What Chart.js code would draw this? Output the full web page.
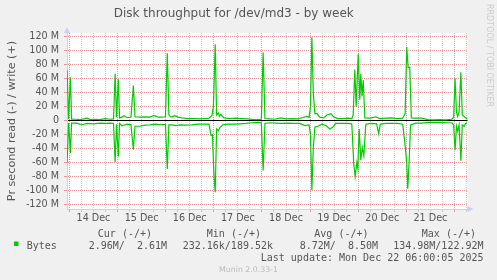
<!DOCTYPE html>
<html>
<head>
<meta charset="utf-8">
<title>Disk throughput for /dev/md3 - by week</title>
<script src="https://cdn.jsdelivr.net/npm/chart.js@4.4.1/dist/chart.umd.min.js"></script>
<style>
  html, body { margin: 0; padding: 0; background: #f0f0f0; }
  #wrap { width: 497px; height: 280px; }
</style>
</head>
<body>
<div id="wrap"><canvas id="diskChart" width="497" height="280"></canvas></div>
<script>
// hours since 14 Dec 00:00, values in MB per second
const writeHours = [-1.15, -0.4, 0.5, 1.1, 3.3, 5.3, 7.3, 8.8, 10.3, 12.8, 15.3, 17.8, 20.3, 22.0, 22.8, 23.5, 24.4, 25.0,
  26.2, 27.2, 28.7, 30.7, 31.9, 32.7, 35.2, 37.7, 40.2, 42.2, 44.2, 46.2, 47.9, 48.8, 49.6, 50.6, 52.6, 54.1, 56.1,
  59.1, 62.6, 65.1, 67.6, 69.6, 71.1, 71.8, 72.7, 73.4, 74.3, 74.8, 75.5, 77.0, 80.0, 83.0, 86.0, 89.0, 92.0, 94.0,
  95.7, 96.6, 97.5, 99.9, 102.4, 105.4, 107.9, 110.9, 113.9, 116.5, 118.0, 119.5, 120.2, 120.9, 121.6, 122.4, 123.4,
  124.9, 126.9, 128.4, 130.4, 131.9, 133.9, 136.3, 138.8, 140.8, 141.5, 142.3, 143.0, 144.0, 144.8, 145.3, 145.9,
  146.5, 147.3, 149.8, 152.8, 154.8, 157.8, 160.7, 163.7, 166.2, 167.4, 168.2, 168.9, 169.7, 170.5, 172.7, 175.7,
  178.7, 181.7, 184.7, 187.7, 190.7, 191.6, 192.3, 193.0, 193.6, 194.3, 195.2, 195.9, 196.8, 197.5, 198.3];
const writeValues = [72, 2, 62, 2, 2, 1.5, 2.5, 3.5, 1.5, 2, 1.5, 3, 2, 2.5, 67, 5, 59, 4,
  5, 7, 4.5, 5, 50, 5.5, 5, 5.5, 5, 7.5, 5, 5, 5.5, 96, 8, 5, 7, 5, 4,
  3, 3, 2.5, 3, 3.5, 7.5, 20, 109, 8, 11, 6, 9, 4, 3, 3.5, 3, 2.5, 1.5, 1.5,
  2, 97, 3, 2.5, 2, 4, 2.5, 3, 2.5, 4.5, 6, 5, 20, 119, 40, 10, 10,
  5, 4, 8, 10, 5, 3, 3, 3.5, 3, 8, 73, 20, 95, 30, 67, 35,
  58, 4, 3.5, 5.5, 3, 3.5, 4, 3, 3.5, 10, 105, 76, 76, 4, 3.5, 3.5,
  1.5, 1, 1.5, 1, 2, 5, 60, 12, 6, 12, 69, 8, 6, 4, 2.6];

const readHours = [-1.15, -0.4, 0.5, 1.1, 3.3, 5.3, 6.8, 8.8, 11.8, 15.3, 18.3, 20.3, 22.0, 22.8, 23.5, 24.4, 25.0,
  26.2, 27.2, 28.7, 30.7, 31.9, 32.7, 35.2, 37.7, 40.2, 42.7, 45.2, 47.9, 48.8, 49.6, 51.2, 53.1, 55.1, 58.1, 61.1,
  64.1, 67.1, 69.6, 70.6, 71.3, 72.1, 72.7, 73.4, 74.3, 75.0, 76.5, 79.0, 82.0, 85.0, 88.0, 91.0, 94.0, 95.7, 96.6,
  97.5, 99.9, 102.9, 105.9, 108.9, 111.9, 114.9, 117.4, 119.5, 120.2, 120.9, 121.6, 122.4, 123.9, 125.9, 127.9,
  129.9, 131.4, 132.8, 135.8, 138.8, 140.8, 141.8, 142.5, 143.3, 143.8, 144.5, 145.3, 146.0, 146.8, 147.8, 150.3,
  153.2, 154.2, 155.0, 157.8, 160.7, 163.7, 166.2, 167.4, 168.2, 168.7, 169.4, 170.1, 172.7, 175.7, 178.7, 181.7,
  184.7, 187.7, 190.7, 191.6, 192.3, 193.0, 193.6, 194.3, 195.2, 195.9, 196.8, 197.5, 198.3];
const readValues = [-60, -3, -46, -3.5, -3.5, -5, -5.5, -4, -4.5, -3.5, -4, -3.5, -4, -59, -5, -51, -4,
  -7, -6.5, -5, -6, -41.5, -8, -8, -6.5, -6, -5, -5.5, -5.5, -69, -6, -6, -7, -6, -6.5, -6,
  -5, -5, -5, -21, -20, -79, -102, -12, -14, -10, -6, -5, -5, -4.5, -4, -3, -2.5, -3, -71,
  -4, -3, -3.5, -4, -3.5, -4, -4, -7, -6, -20, -99, -40, -9, -8, -5, -7,
  -12, -9, -4, -4, -4, -4.5, -62, -80, -60, -68, -12, -56, -38, -50, -5, -4,
  -4.5, -18.6, -5, -4, -4, -4, -5, -35, -61, -97, -59, -6, -3.5, -3.5, -2.5, -2.5,
  -2.5, -3, -3, -6, -42, -8, -15, -6, -57, -6, -8, -4, -3];

const dayLabels = ['14 Dec', '15 Dec', '16 Dec', '17 Dec', '18 Dec', '19 Dec', '20 Dec', '21 Dec'];
const yTickValues = [-120, -100, -80, -60, -40, -20, 0, 20, 40, 60, 80, 100, 120];
const yTickLabels = ['-120 M', '-100 M', '-80 M', '-60 M', '-40 M', '-20 M', '0', '20 M', '40 M', '60 M', '80 M', '100 M', '120 M'];

const legendHeaders = ['Cur (-/+)', 'Min (-/+)', 'Avg (-/+)', 'Max (-/+)'];
const legendValues = ['2.96M/  2.61M', '232.16k/189.52k', '8.72M/  8.50M', '134.98M/122.92M'];
const lastUpdate = 'Last update: Mon Dec 22 06:00:05 2025';

const GREEN = '#00cc00';
const MAJOR = 'rgba(235, 130, 130, 0.85)';
const MINOR = 'rgba(190, 190, 190, 0.8)';
const AXIS = '#c9d0f5';
const TEXT = '#555555';

const toPoints = (hours, values) => hours.map((h, i) => ({ x: h, y: values[i] }));

const munin = {
  id: 'munin',
  beforeDraw(chart) {
    const { ctx, chartArea: a } = chart;
    ctx.save();
    ctx.fillStyle = '#f0f0f0';
    ctx.fillRect(0, 0, chart.width, chart.height);
    ctx.fillStyle = '#ffffff';
    ctx.fillRect(a.left, a.top, a.right - a.left, a.bottom - a.top);
    ctx.restore();
  },
  afterDraw(chart) {
    const { ctx, chartArea: a } = chart;
    ctx.save();
    // axis arrows
    ctx.fillStyle = AXIS;
    ctx.beginPath();
    ctx.moveTo(a.left - 3, a.top);
    ctx.lineTo(a.left + 3, a.top);
    ctx.lineTo(a.left, a.top - 6);
    ctx.fill();
    ctx.beginPath();
    ctx.moveTo(a.right, a.bottom - 3);
    ctx.lineTo(a.right, a.bottom + 3);
    ctx.lineTo(a.right + 6, a.bottom);
    ctx.fill();

    // legend
    ctx.font = '10px "DejaVu Sans Mono"';
    ctx.fillStyle = TEXT;
    ctx.textBaseline = 'middle';
    ctx.textAlign = 'right';
    const headerX = [152, 261, 368.5, 476];
    const valueX = [167, 273, 378, 483.5];
    legendHeaders.forEach((t, i) => ctx.fillText(t, headerX[i], 234));
    legendValues.forEach((t, i) => ctx.fillText(t, valueX[i], 246));
    ctx.fillText(lastUpdate, 483.5, 258.2);
    ctx.textAlign = 'left';
    ctx.fillText('Bytes', 26.7, 246);
    ctx.fillStyle = GREEN;
    ctx.fillRect(14, 241.5, 4.5, 4.5);

    ctx.font = '7.8px "DejaVu Sans"';
    ctx.fillStyle = '#bbbbbb';
    ctx.textAlign = 'center';
    ctx.fillText('Munin 2.0.33-1', 248.5, 270);

    ctx.translate(489.5, 4);
    ctx.rotate(Math.PI / 2);
    ctx.font = '8px "DejaVu Sans"';
    ctx.fillStyle = '#cccccc';
    ctx.textAlign = 'left';
    ctx.fillText('RRDTOOL / TOBI OETIKER', 0, 0);
    ctx.restore();
  }
};

const ctx = document.getElementById('diskChart');

const chart = new Chart(ctx, {
  type: 'line',
  data: {
    datasets: [
      {
        label: 'write',
        data: toPoints(writeHours, writeValues),
        borderColor: GREEN,
        borderWidth: 1.2,
        pointRadius: 0,
        tension: 0,
      },
      {
        label: 'read',
        data: toPoints(readHours, readValues),
        borderColor: GREEN,
        borderWidth: 1.2,
        pointRadius: 0,
        tension: 0,
      },
    ],
  },
  options: {
    responsive: false,
    animation: false,
    events: [],
    layout: { padding: { left: 0, right: 29.5, top: 0, bottom: 0 } },
    plugins: {
      legend: { display: false },
      tooltip: { enabled: false },
      title: {
        display: true,
        text: 'Disk throughput for /dev/md3 - by week',
        color: TEXT,
        font: { family: 'DejaVu Sans', size: 12, weight: 'normal' },
        padding: { top: 7, bottom: 11.6 },
      },
    },
    scales: {
      x: {
        type: 'linear',
        min: -1.2,
        max: 198.5,
        afterFit(scale) { scale.height = 71; },
        afterBuildTicks(scale) {
          scale.ticks = [];
          for (let h = 0; h <= 198; h += 6) scale.ticks.push({ value: h });
        },
        grid: {
          color: (c) => (c.tick && c.tick.value % 24 === 0 ? MAJOR : MINOR),
          tickColor: (c) => (c.tick && c.tick.value % 24 === 0 ? MAJOR : MINOR),
          tickLength: 3,
        },
        border: { color: AXIS, dash: [1, 1] },
        ticks: {
          autoSkip: false,
          maxRotation: 0,
          padding: 1,
          color: TEXT,
          font: { family: 'DejaVu Sans', size: 9.6 },
          callback: (v) => (v % 24 === 12 ? dayLabels[Math.floor(v / 24)] : ''),
        },
      },
      y: {
        min: -126,
        max: 125,
        afterFit(scale) { scale.width = 67; },
        afterBuildTicks(scale) {
          scale.ticks = [];
          for (let v = -120; v <= 120; v += 10) scale.ticks.push({ value: v });
        },
        grid: {
          color: (c) => (c.tick && c.tick.value === 0 ? '#000000' : (c.tick && c.tick.value % 20 === 0 ? MAJOR : MINOR)),
          tickColor: (c) => (c.tick && c.tick.value % 20 === 0 ? MAJOR : MINOR),
          tickLength: 3,
        },
        border: {
          color: AXIS,
          dash: (c) => (c.tick && c.tick.value === 0 ? [] : [1, 1]),
        },
        title: {
          display: true,
          text: 'Pr second read (-) / write (+)',
          color: TEXT,
          font: { family: 'DejaVu Sans', size: 11.2 },
          padding: { top: 5.4, bottom: 0 },
        },
        ticks: {
          padding: 5,
          color: TEXT,
          font: { family: 'DejaVu Sans', size: 9.6 },
          callback: (v) => {
            const i = yTickValues.indexOf(v);
            return i >= 0 ? yTickLabels[i] : '';
          },
        },
      },
    },
  },
  plugins: [munin],
});
</script>
</body>
</html>
